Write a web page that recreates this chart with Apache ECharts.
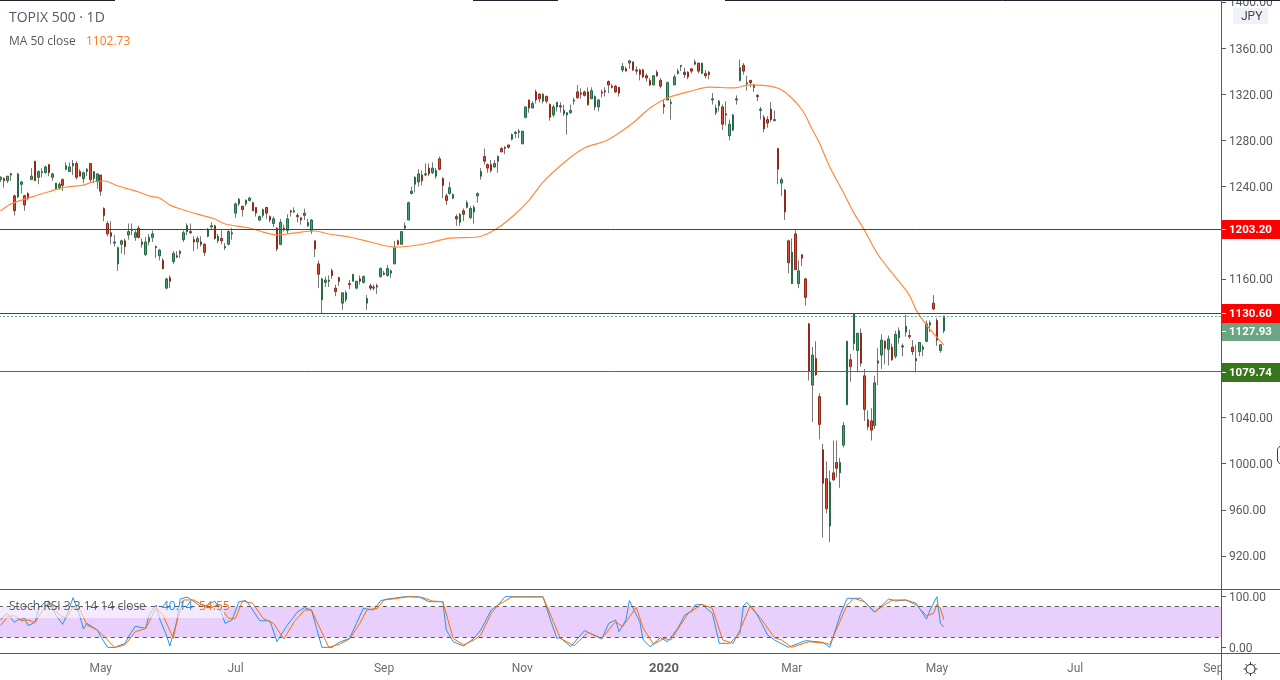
<!DOCTYPE html>
<html>
<head>
<meta charset="utf-8">
<title>TOPIX 500</title>
<script src="https://cdn.jsdelivr.net/npm/echarts@6/dist/echarts.min.js"></script>
<style>
html, body { margin: 0; padding: 0; background: #fff; }
#chart { width: 1280px; height: 680px; }
</style>
</head>
<body>
<div id="chart"></div>
<script>
// daily bars, [open, close, low, high]
var candles = [
[1246,1248,1244,1249],[1247,1245,1239,1248],[1245,1249,1243,1249],[1251,1250,1245,1252],[1232,1219,1215,1233],[1231,1251,1230,1252],[1242,1244,1234,1245],[1232,1224,1219,1233],
[1234,1230,1228,1235],[1246,1249,1246,1256],[1262,1245,1245,1262],[1248,1253,1242,1254],[1252,1253,1248,1256],[1252,1257,1251,1258],[1259,1252,1249,1259],[1248,1251,1245,1252],
[1238,1243,1237,1243],[1239,1242,1237,1244],[1246,1241,1236,1247],[1255,1258,1254,1261],[1253,1257,1253,1261],[1258,1260,1250,1263],[1260,1248,1246,1262],[1253,1249,1249,1255],
[1247,1252,1243,1253],[1253,1255,1249,1256],[1260,1246,1244,1260],[1247,1253,1243,1253],[1244,1251,1238,1251],[1250,1236,1232,1250],[1221,1215,1210,1222],[1208,1199,1197,1210],
[1200,1197,1190,1210],[1191,1192,1188,1198],[1173,1187,1167,1188],[1190,1193,1182,1194],[1193,1188,1181,1195],[1198,1201,1194,1208],[1202,1203,1198,1208],[1196,1200,1193,1202],
[1204,1196,1195,1206],[1190,1192,1187,1195],[1181,1192,1180,1196],[1192,1196,1189,1199],[1196,1199,1192,1202],[1187,1188,1178,1189],[1180,1185,1176,1186],[1176,1169,1168,1178],
[1152,1160,1151,1161],[1161,1158,1152,1163],[1175,1182,1173,1184],[1180,1179,1178,1184],[1182,1184,1178,1185],[1194,1200,1192,1202],[1201,1206,1198,1208],[1201,1200,1199,1208],
[1194,1192,1184,1197],[1192,1195,1186,1197],[1192,1190,1188,1197],[1190,1183,1180,1191],[1197,1203,1196,1204],[1205,1206,1203,1209],[1206,1195,1194,1207],[1193,1197,1191,1199],
[1195,1193,1190,1202],[1187,1188,1185,1191],[1190,1201,1189,1202],[1199,1200,1194,1204],[1217,1225,1213,1226],[1225,1229,1223,1230],[1223,1220,1214,1223],[1225,1228,1223,1229],
[1228,1230,1227,1231],[1226,1219,1219,1227],[1222,1217,1214,1222],[1211,1214,1210,1215],[1215,1220,1213,1221],[1222,1217,1212,1222],[1214,1211,1209,1215],[1208,1212,1205,1214],
[1204,1186,1184,1205],[1190,1209,1189,1212],[1204,1203,1201,1207],[1202,1212,1199,1216],[1219,1218,1214,1220],[1218,1219,1217,1222],[1215,1214,1209,1217],[1213,1211,1207,1213],
[1215,1217,1211,1221],[1206,1209,1205,1212],[1202,1211,1199,1212],[1193,1186,1179,1193],[1173,1164,1152,1176],[1142,1160,1130,1161],[1157,1159,1153,1162],[1158,1159,1153,1163],
[1167,1163,1160,1169],[1152,1149,1145,1155],[1161,1158,1154,1162],[1139,1148,1133,1148],[1142,1148,1140,1150],[1156,1155,1151,1159],[1158,1164,1158,1164],[1152,1158,1151,1158],
[1160,1158,1155,1163],[1157,1162,1156,1163],[1139,1143,1133,1146],[1154,1152,1150,1156],[1152,1153,1150,1155],[1154,1153,1147,1156],[1162,1169,1161,1170],[1165,1164,1163,1167],
[1163,1169,1162,1172],[1165,1167,1161,1168],[1173,1187,1173,1193],[1193,1190,1189,1194],[1190,1201,1190,1201],[1204,1206,1203,1209],[1211,1226,1211,1227],[1234,1236,1233,1240],
[1242,1248,1235,1249],[1244,1251,1240,1255],[1250,1245,1241,1254],[1250,1251,1249,1260],[1256,1251,1249,1260],[1252,1256,1251,1261],[1249,1254,1247,1256],[1264,1255,1254,1266],
[1247,1241,1230,1248],[1232,1228,1224,1234],[1234,1239,1233,1244],[1230,1233,1229,1234],[1214,1212,1206,1216],[1209,1216,1206,1217],[1219,1216,1210,1221],[1222,1226,1221,1228],
[1213,1221,1212,1223],[1218,1222,1208,1224],[1232,1234,1226,1235],[1249,1253,1246,1256],[1266,1262,1259,1273],[1259,1256,1252,1260],[1259,1254,1252,1263],[1257,1260,1256,1263],
[1262,1266,1252,1267],[1273,1270,1270,1274],[1273,1274,1268,1275],[1276,1274,1273,1276],[1281,1285,1280,1286],[1286,1287,1282,1288],[1287,1288,1282,1290],[1277,1288,1277,1288],
[1300,1309,1299,1309],[1315,1308,1304,1315],[1308,1312,1308,1314],[1322,1315,1312,1324],[1320,1316,1313,1321],[1314,1320,1312,1321],[1318,1314,1312,1319],[1311,1300,1297,1312],
[1302,1309,1300,1311],[1309,1313,1305,1313],[1310,1309,1304,1313],[1303,1306,1301,1311],[1302,1304,1285,1304],[1304,1306,1303,1311],[1314,1315,1311,1317],[1322,1317,1316,1328],
[1321,1320,1316,1325],[1322,1319,1318,1323],[1322,1311,1310,1326],[1316,1323,1316,1326],[1309,1318,1306,1319],[1309,1315,1305,1316],[1322,1321,1317,1324],[1323,1322,1318,1326],
[1331,1328,1321,1332],[1327,1326,1325,1329],[1327,1322,1321,1328],[1326,1321,1318,1326],[1341,1344,1339,1347],[1342,1340,1340,1344],[1347,1349,1342,1349],[1348,1341,1340,1348],
[1341,1340,1337,1344],[1341,1337,1332,1342],[1341,1335,1334,1342],[1336,1334,1331,1338],[1332,1328,1327,1334],[1328,1336,1328,1336],[1339,1336,1335,1341],[1332,1327,1325,1334],
[1311,1309,1303,1315],[1315,1330,1315,1331],[1312,1313,1298,1316],[1328,1335,1328,1337],[1338,1340,1337,1342],[1344,1345,1340,1345],[1339,1337,1334,1343],[1339,1335,1333,1340],
[1342,1340,1338,1342],[1346,1348,1345,1350],[1347,1340,1338,1347],[1338,1347,1338,1347],[1338,1336,1334,1341],[1339,1337,1333,1340],[1315,1316,1311,1321],[1304,1308,1302,1311],
[1310,1314,1305,1315],[1309,1294,1289,1311],[1303,1302,1293,1314],[1284,1294,1280,1298],[1289,1302,1288,1303],[1315,1316,1311,1319],[1332,1343,1331,1350],[1345,1340,1337,1347],
[1329,1330,1323,1336],[1332,1330,1326,1332],[1328,1326,1322,1329],[1319,1318,1314,1320],[1306,1307,1298,1309],[1300,1290,1287,1302],[1298,1295,1291,1301],[1307,1298,1296,1313],
[1297,1298,1297,1306],[1273,1255,1242,1273],[1243,1246,1232,1248],[1237,1218,1211,1238],[1193,1174,1165,1194],[1156,1183,1156,1195],[1199,1168,1168,1202],[1156,1167,1152,1176],
[1181,1178,1171,1181],[1160,1144,1137,1161],[1121,1080,1072,1122],[1068,1094,1036,1101],[1091,1077,1076,1106],[1058,1034,1021,1061],[1012,983,936,1017],[987,961,957,1002],
[946,984,932,994],[992,986,985,1020],[1001,996,988,1020],[992,1001,979,1005],[1016,1033,1014,1036],[1051,1106,1051,1106],[1090,1084,1071,1095],[1104,1130,1098,1130],
[1098,1113,1079,1113],[1113,1087,1084,1117],[1076,1047,1037,1082],[1038,1032,1029,1046],[1037,1029,1020,1048],[1033,1070,1030,1076],[1087,1089,1068,1100],[1094,1107,1082,1112],
[1106,1100,1086,1107],[1099,1108,1085,1111],[1101,1090,1089,1104],[1093,1112,1091,1115],[1109,1115,1104,1118],[1101,1102,1093,1104],[1114,1119,1110,1129],[1111,1110,1108,1116],
[1101,1097,1094,1107],[1089,1091,1079,1103],[1097,1105,1093,1105],[1099,1101,1093,1103],[1106,1121,1105,1124],[1120,1122,1114,1124],[1139,1134,1133,1146],[1124,1107,1102,1126],
[1098,1103,1096,1103],[1115,1127.93,1113,1128]
];

// [bar, value]
var ma50 = [
[0,1218.8],[3,1224.9],[10,1231.8],[14,1235.5],[19,1239.6],[24,1241.3],[27,1244.2],[30,1244.8],[34,1240.5],[37,1237.9],[40,1235.3],[43,1231.8],
[46,1230.1],[49,1224],[53,1219.7],[58,1215.3],[62,1211.9],[65,1207.6],[72,1204.1],[76,1200.6],[80,1198],[83,1198.9],[87,1200.6],[91,1201.5],
[95,1198.9],[101,1196.3],[107,1192],[114,1187.6],[119,1188.5],[124,1191.1],[130,1195.4],[138,1196.3],[143,1202.4],[148,1213.6],[153,1228.3],
[157,1243.9],[164,1263],[169,1273.4],[175,1279.4],[179,1286.4],[183,1295],[188,1308],[193,1316.7],[200,1322.8],[205,1326.2],[212,1325.4],
[217,1328],[224,1326.2],[227,1321.9],[232,1306.3],[235,1289],[237,1277.7],[240,1257],[244,1234.4],[247,1217],[250,1202.4],[254,1180.7],
[259,1161.6],[263,1146],[265,1133],[268,1120],[273,1102.73]
];
var stochK = [
[0,53.9],[1,62.4],[2,66.3],[4,49.3],[5,53.9],[7,57.1],[8,42.8],[10,49.3],[11,76.7],[13,89.8],[14,91.1],[16,63.7],[18,45.4],[19,60.4],[21,97.7],[23,60.4],
[24,36.2],[25,47.3],[28,34.3],[29,21.2],[31,0.3],[33,0],[36,8.1],[37,21.2],[39,41.5],[42,37.5],[43,63.7],[45,83.3],[46,57.1],[48,24.5],[49,2.9],[51,50.6],
[52,95],[54,99],[56,89.8],[58,80],[60,83.3],[62,91.1],[64,66.9],[65,47.3],[67,53.9],[69,89.8],[71,91.8],[72,83.3],[75,52.6],[78,51.9],[80,11.4],[83,44],
[86,70.2],[88,78.1],[90,73.5],[93,0.3],[96,0.3],[98,10.1],[101,17.9],[103,47.3],[105,76.7],[108,73.5],[110,91.8],[112,95],[115,97.7],[117,99.6],[121,99.6],
[124,89.8],[128,89.8],[129,34.3],[131,11.4],[134,2.9],[137,17.9],[139,34.3],[142,73.5],[144,83.3],[146,99.6],[149,99.6],[157,99.6],[159,57.1],[161,17.9],
[162,19.2],[165,1.6],[169,33],[172,23.1],[174,16.6],[176,47.3],[178,53.9],[179,31],[181,53.9],[182,91.8],[185,50.6],[186,14.7],[188,1.6],[191,19.2],[193,11.4],
[196,37.5],[198,63.7],[200,71.5],[201,83.3],[203,84.6],[206,66.9],[208,8.1],[211,8.1],[214,27.7],[215,82],[216,88.5],[219,63.7],[222,24.5],[224,14.7],[228,0.3],
[233,13.4],[238,10.1],[240,0.3],[243,63.7],[245,96.4],[249,96.4],[253,68.9],[257,95],[259,91.1],[262,93.1],[265,86.6],[268,55.8],[269,73.5],[271,99.6],[272,47.3],[273,40.14]
];
var stochD = [
[0,42.8],[2,60.4],[4,62.4],[6,52.6],[8,53.9],[10,49.3],[12,70.2],[14,88.5],[15,82],[17,63.7],[19,57.1],[21,80],[23,73.5],[25,44],[28,34.3],[31,14.7],[33,0],
[36,4.9],[39,31],[42,37.5],[45,76.7],[47,63.7],[50,17.9],[51,50.6],[53,93.1],[56,93.1],[60,76.7],[63,83.3],[66,57.1],[68,57.1],[70,91.1],[73,86.6],[76,57.1],
[79,47.3],[82,16.6],[85,50.6],[88,73.5],[90,73.5],[95,0.3],[98,6.2],[101,16.6],[104,47.3],[106,73.5],[109,76.7],[111,93.1],[115,96.4],[118,99.6],[122,98.3],
[125,91.1],[128,89.8],[131,17.9],[134,4.9],[137,14.7],[139,24.5],[142,66.9],[144,83.3],[148,99],[157,99],[160,50.6],[162,17.9],[166,3.5],[170,29.7],[174,17.9],
[178,50.6],[180,40.8],[184,78.7],[186,37.5],[189,6.2],[192,17.9],[194,14.7],[199,66.9],[203,84.6],[206,76.7],[209,14.7],[212,8.1],[214,34.3],[217,82],[220,57.1],
[224,19.2],[226,14.7],[229,0.3],[234,11.4],[239,8.1],[240,6.2],[245,83.3],[247,96.4],[250,89.8],[253,70.2],[258,93.1],[262,93.1],[265,83.3],[268,62.4],[270,66.9],
[271,84.6],[272,76.7],[273,54.55]
];

var priceTicks = [920,960,1000,1040,1160,1240,1280,1320,1360,1400];
var stochTicks = [0, 100];
var stochBand = [20, 80];
var monthBars = [29, 68, 111, 151, 192, 229, 271, 311, 351];
var monthNames = ['May', 'Jul', 'Sep', 'Nov', '2020', 'Mar', 'May', 'Jul', 'Sep'];
var resistance = 1203.20, pivot = 1130.60, support = 1079.74, lastClose = 1127.93;
var maLast = '1102.73', kLast = '40.14', dLast = '54.55';

var barSlots = 354;
var categories = [];
for (var i = 0; i < barSlots; i++) categories.push(String(i));

var font = 'Roboto, sans-serif';
var legendFont = '"Open Sans", sans-serif';
var gray = '#555a60';

var myChart = echarts.init(document.getElementById('chart'), null, { renderer: 'canvas' });

function bodies() {
    return candles.map(function (c) {
        return [c[0], c[1], Math.min(c[0], c[1]), Math.max(c[0], c[1])];
    });
}

function hLine(x1, x2, y, color) {
    return { type: 'line', z: 200, silent: true, shape: { x1: x1, y1: y, x2: x2, y2: y }, style: { stroke: color, lineWidth: 1 } };
}

function vLine(x, y1, y2, color, w) {
    return { type: 'line', z: 200, silent: true, shape: { x1: x, y1: y1, x2: x, y2: y2 }, style: { stroke: color, lineWidth: w || 1 } };
}

function txt(x, y, s, color, size, weight, family) {
    return { type: 'text', z: 210, silent: true, x: x, y: y, style: { text: s, fill: color, font: (weight || 'normal') + ' ' + (size || 12) + 'px ' + (family || legendFont), verticalAlign: 'middle' } };
}

// price tag on the right scale
function tag(y, h, bg, s, tickY) {
    return [
        { type: 'rect', z: 205, silent: true, shape: { x: 1222, y: y, width: 58, height: h }, style: { fill: bg } },
        { type: 'line', z: 206, silent: true, shape: { x1: 1222, y1: tickY, x2: 1226, y2: tickY }, style: { stroke: '#fff', lineWidth: 1 } },
        txt(1229, y + h / 2 + 0.5, s, '#fff', 11.5, 'bold', font)
    ];
}

function gear(cx, cy) {
    var items = [{ type: 'circle', z: 210, silent: true, shape: { cx: cx, cy: cy, r: 4.5 }, style: { fill: 'none', stroke: '#333', lineWidth: 1.2 } }];
    for (var a = 0; a < 8; a++) {
        var t = a * Math.PI / 4, c = Math.cos(t), s = Math.sin(t);
        items.push({ type: 'line', z: 210, silent: true, shape: { x1: cx + 5 * c, y1: cy + 5 * s, x2: cx + 7 * c, y2: cy + 7 * s }, style: { stroke: '#333', lineWidth: 1 } });
    }
    return items;
}

var chrome = [
    { type: 'rect', z: 195, silent: true, shape: { x: 1222, y: 653, width: 58, height: 27 }, style: { fill: '#fff' } },
    { type: 'rect', z: 190, silent: true, shape: { x: 0, y: 607, width: 224, height: 11 }, style: { fill: 'rgba(255,255,255,0.55)' } },
    hLine(0, 115, 0.5, '#1e222d'), hLine(473, 558, 0.5, '#1e222d'), hLine(725, 1280, 0.5, '#1e222d'),
    hLine(0, 1280, 589.5, gray), hLine(0, 1280, 653.5, gray),
    vLine(1221.5, 0, 680, gray),
    { type: 'rect', z: 205, silent: true, shape: { x: 1233, y: 8, width: 35, height: 16 }, style: { fill: '#f1f1f8' } },
    txt(1241, 16.5, 'JPY', '#444', 12, 'normal', font),
    txt(9, 18, 'TOPIX 500 \u00b7 1D', gray, 14),
    txt(9, 41.5, 'MA 50 close', gray, 12),
    txt(86, 41.5, maLast, '#ff7a1f', 12),
    txt(9, 606.5, 'Stoch RSI 3 3 14 14 close', gray, 12),
    txt(162, 606.5, kLast, '#2196f3', 12),
    txt(199, 606.5, dLast, '#ff6d00', 12),
    { type: 'polyline', z: 210, silent: true, shape: { points: [[1280, 446], [1277.5, 449], [1277.5, 461], [1280, 464]] }, style: { fill: 'none', stroke: '#444', lineWidth: 1 } }
].concat(
    tag(220, 19, '#ff0000', resistance.toFixed(2), 229.5),
    tag(304, 19, '#ff0000', pivot.toFixed(2), 313.5),
    tag(323, 18, '#6ba583', lastClose.toFixed(2), 331.5),
    tag(363, 19, '#38761d', support.toFixed(2), 372.5),
    gear(1250.5, 669)
);

option = {
    animation: false,
    backgroundColor: '#fff',
    textStyle: { fontFamily: font },
    grid: [
        { left: -1.2, top: 0, width: 1223.2, height: 589, outerBoundsMode: 'none' },
        { left: -1.2, top: 589.5, width: 1223.2, height: 64, outerBoundsMode: 'none' }
    ],
    xAxis: [{
        type: 'category', gridIndex: 0, data: categories,
        axisLine: { show: false }, axisTick: { show: false }, axisLabel: { show: false }, splitLine: { show: false }
    }, {
        type: 'category', gridIndex: 1, data: categories,
        axisLine: { show: false },
        axisTick: { alignWithLabel: true, customValues: monthBars, length: 4, lineStyle: { color: gray } },
        axisLabel: {
            customValues: monthBars, margin: 9, fontSize: 12, fontFamily: font, color: '#6a6f75',
            formatter: function (value) {
                var name = monthNames[monthBars.indexOf(+value)];
                return name === '2020' ? '{y|2020}' : name;
            },
            rich: { y: { fontSize: 13, fontWeight: 'bold', color: '#5a5f66', fontFamily: font } }
        },
        splitLine: { show: false }
    }],
    yAxis: [{
        type: 'value', gridIndex: 0, position: 'right', min: 891.4, max: 1401.6, scale: true,
        axisLine: { show: false },
        axisTick: { show: true, customValues: priceTicks, length: 4, lineStyle: { color: gray } },
        axisLabel: {
            customValues: priceTicks, margin: 7, fontSize: 12, fontFamily: font, color: gray,
            verticalAlign: 'top', lineHeight: 3,
            formatter: function (v) { return v.toFixed(2); }
        },
        splitLine: { show: false }
    }, {
        type: 'value', gridIndex: 1, position: 'right', min: -11.8, max: 113.7,
        axisLine: { show: false },
        axisTick: { show: true, customValues: stochTicks, length: 4, lineStyle: { color: gray } },
        axisLabel: {
            customValues: stochTicks, margin: 7, fontSize: 12, fontFamily: font, color: gray,
            verticalAlign: 'top', lineHeight: 3,
            formatter: function (v) { return v.toFixed(2); }
        },
        splitLine: { show: false }
    }],
    series: [{
        // wicks are grey, bodies go on top in the next series
        name: 'wicks', type: 'candlestick', xAxisIndex: 0, yAxisIndex: 0, z: 2, barWidth: 1,
        data: candles,
        itemStyle: { color: '#777', color0: '#777', borderColor: '#777', borderColor0: '#777', borderWidth: 1 }
    }, {
        name: 'bodies', type: 'candlestick', xAxisIndex: 0, yAxisIndex: 0, z: 3, barWidth: 2,
        data: bodies(),
        itemStyle: { color: '#4a9f74', color0: '#e2482f', borderColor: '#256b48', borderColor0: '#8f2a1a', borderWidth: 1 }
    }, {
        name: 'MA 50', type: 'line', xAxisIndex: 0, yAxisIndex: 0, z: 4, data: ma50, showSymbol: false, smooth: 0.3,
        lineStyle: { color: '#ff8a3c', width: 1.2 },
        markLine: {
            silent: true, symbol: 'none', label: { show: false }, animation: false,
            data: [
                { yAxis: resistance, lineStyle: { color: '#e00000', width: 1, type: 'solid' } },
                { yAxis: pivot, lineStyle: { color: '#e00000', width: 1, type: 'solid' } },
                { yAxis: support, lineStyle: { color: '#2f8a0e', width: 1, type: 'solid' } },
                { yAxis: lastClose, lineStyle: { color: '#6ba583', width: 1, type: [2, 2] } }
            ]
        }
    }, {
        name: 'K', type: 'line', xAxisIndex: 1, yAxisIndex: 1, z: 4, data: stochK, showSymbol: false,
        lineStyle: { color: '#2196f3', width: 1 },
        markArea: {
            silent: true, itemStyle: { color: '#e9cffc' },
            data: [[{ yAxis: stochBand[0] }, { yAxis: stochBand[1] }]]
        },
        markLine: {
            silent: true, symbol: 'none', label: { show: false }, animation: false,
            lineStyle: { color: '#555', width: 1, type: [4, 4] },
            data: [{ yAxis: stochBand[0] }, { yAxis: stochBand[1] }]
        }
    }, {
        name: 'D', type: 'line', xAxisIndex: 1, yAxisIndex: 1, z: 5, data: stochD, showSymbol: false,
        lineStyle: { color: '#ff6d00', width: 1 }
    }],
    graphic: { elements: chrome }
};
myChart.setOption(option, true);
</script>
</body>
</html>
